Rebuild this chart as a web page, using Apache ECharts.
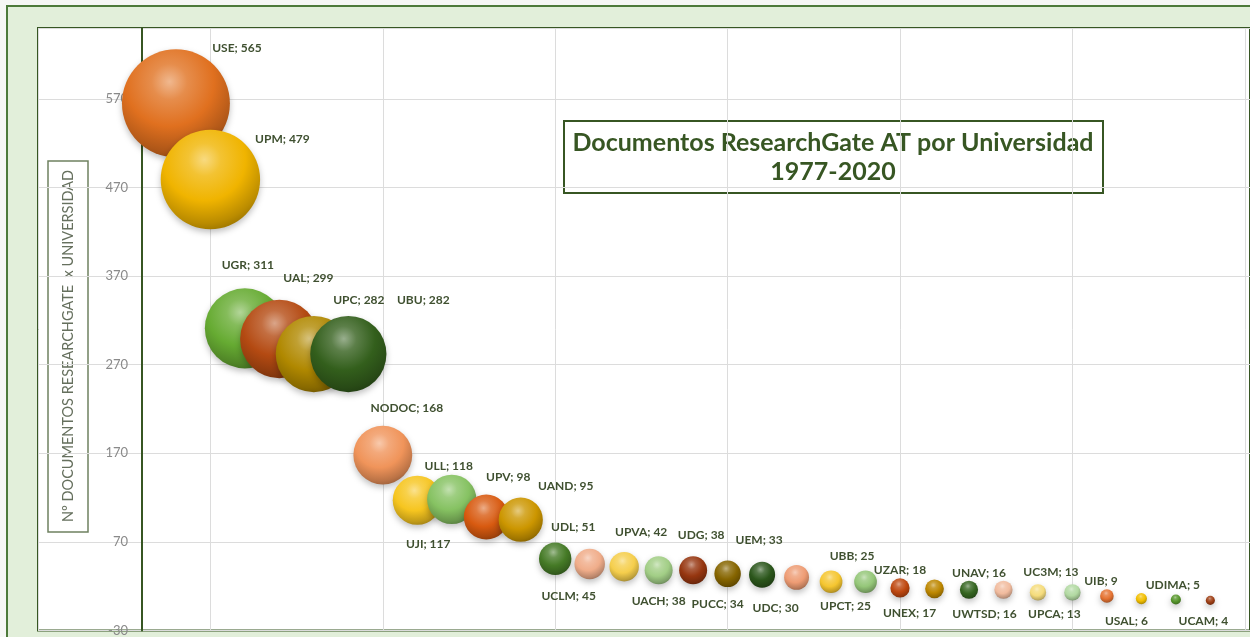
<!DOCTYPE html>
<html>
<head>
<meta charset="utf-8">
<title>Documentos ResearchGate AT por Universidad</title>
<script src="https://cdn.jsdelivr.net/npm/echarts@6/dist/echarts.min.js"></script>
<style>
  html, body { margin: 0; padding: 0; background: #f6f7f5; }
  #chart { width: 1250px; height: 637px; }
</style>
</head>
<body>
<div id="chart"></div>
<script>
// universities, sorted by number of documents
const universities = ['USE', 'UPM', 'UGR', 'UAL', 'UPC', 'UBU', 'NODOC', 'UJI', 'ULL', 'UPV', 'UAND',
  'UDL', 'UCLM', 'UPVA', 'UACH', 'UDG', 'PUCC', 'UEM', 'UDC', 'UBB', 'UPCT', 'UZAR', 'UNEX',
  'UNAV', 'UWTSD', 'UC3M', 'UPCA', 'UIB', 'USAL', 'UDIMA', 'UCAM'];
const documents = [565, 479, 311, 299, 282, 282, 168, 117, 118, 98, 95,
  51, 45, 42, 38, 38, 34, 33, 30, 25, 25, 18, 17,
  16, 16, 13, 13, 9, 6, 5, 4];

// bubble colours (excel palette, cycling)
const bubbleColors = ['#e0701f', '#f0b400', '#66ab32', '#b44a12', '#b08800', '#335f1c',
  '#f0945a', '#f6c51f', '#86c262', '#d85a10', '#cc9600', '#457a26', '#f0ad8a', '#f5ce4c',
  '#a2ce86', '#963610', '#866500', '#2b561b', '#ee9c74', '#f5c630', '#95c779', '#be470f',
  '#bd8700', '#356520', '#f1bb9e', '#f5dc7c', '#b2d9a2', '#e57332', '#f2bf00', '#56962b', '#9e3e14'];

// label placement: [side, dx, dy] (mimics hand placed excel labels)
const labelPlace = [
  ['top', 61, 10], ['top', 72, 20], ['top', 3, -12], ['top', 29, -11], ['top', 45, -5],
  ['top', 75, -5], ['top', 24, -7], ['bottom', 11, 8], ['top', -3, 2], ['top', 22, -6],
  ['top', 45, 0], ['top', 18, -4], ['bottom', -21, 6], ['top', 17, -9], ['bottom', 0, 6],
  ['top', 8, -10], ['bottom', -10, 6], ['top', -3, -11], ['bottom', -21, 7], ['top', 21, -3],
  ['bottom', -20, 2], ['top', 0, 3], ['bottom', -25, 4], ['top', 10, 3], ['bottom', -19, 4],
  ['top', 13, -1], ['bottom', -18, 3], ['top', -6, 3], ['bottom', -15, 6], ['top', -3, 2],
  ['bottom', -7, 5]
];

function mix(hex, target, amt) {
  const n = parseInt(hex.slice(1), 16);
  const r = (n >> 16) & 255, g = (n >> 8) & 255, b = n & 255;
  const m = c => Math.round(c + (target - c) * amt);
  return 'rgb(' + m(r) + ',' + m(g) + ',' + m(b) + ')';
}

// 3d sphere look
function sphere(hex) {
  return {
    type: 'radial', x: 0.44, y: 0.3, r: 0.75,
    colorStops: [
      { offset: 0, color: mix(hex, 255, 0.5) },
      { offset: 0.22, color: mix(hex, 255, 0.2) },
      { offset: 0.55, color: hex },
      { offset: 0.85, color: mix(hex, 0, 0.22) },
      { offset: 1, color: mix(hex, 0, 0.38) }
    ]
  };
}

const darkGreen = '#375623';
const chart = echarts.init(document.getElementById('chart'));

const seriesData = universities.map((name, i) => ({
  name: name,
  value: [i + 1, documents[i]],
  itemStyle: { color: sphere(bubbleColors[i]) },
  label: { position: labelPlace[i][0], offset: [labelPlace[i][1], labelPlace[i][2]] }
}));

chart.setOption({
  backgroundColor: 'transparent',
  animation: false,
  grid: {
    left: 38, top: 28, right: -6, bottom: 4,
    show: true,
    backgroundColor: '#ffffff',
    borderColor: darkGreen,
    borderWidth: 2
  },
  xAxis: {
    type: 'value',
    min: -3,
    max: 32.15,
    interval: 5,
    axisLine: { show: false },
    axisTick: { show: false },
    axisLabel: { show: false },
    splitLine: { show: true, lineStyle: { color: '#dcdcdc', width: 1 } }
  },
  yAxis: {
    type: 'value',
    min: -30,
    max: 650,
    interval: 100,
    offset: -104,
    axisLine: { show: true, onZero: false, lineStyle: { color: darkGreen, width: 2 } },
    axisTick: { show: false },
    axisLabel: {
      showMaxLabel: false,
      color: '#8a8a8a',
      fontSize: 13,
      fontFamily: 'Lato',
      margin: 14
    },
    splitLine: { show: true, lineStyle: { color: '#dcdcdc', width: 1 } }
  },
  graphic: [
    {
      type: 'rect', z: -10, silent: true,
      shape: { x: 7, y: 6, width: 1270, height: 650 },
      style: { fill: '#e2efda', stroke: '#4d7a3a', lineWidth: 2 }
    },
    {
      type: 'group', z: 10,
      children: [
        {
          type: 'rect',
          shape: { x: 48, y: 161, width: 40, height: 371 },
          style: { fill: '#ffffff', stroke: '#6f8160', lineWidth: 1.5 }
        },
        {
          type: 'text', x: 68, y: 346, rotation: Math.PI / 2,
          style: {
            text: 'Nº DOCUMENTOS RESEARCHGATE  x UNIVERSIDAD',
            fill: '#66705e', font: '14.5px Lato',
            align: 'center', verticalAlign: 'middle'
          }
        }
      ]
    },
    {
      type: 'group', z: 10,
      children: [
        {
          type: 'rect',
          shape: { x: 564, y: 121, width: 539, height: 72 },
          style: { fill: '#ffffff', stroke: darkGreen, lineWidth: 2 }
        },
        {
          type: 'text', x: 833, y: 143,
          style: {
            text: 'Documentos ResearchGate AT por Universidad',
            fill: darkGreen, font: 'bold 25px Lato',
            align: 'center', verticalAlign: 'middle'
          }
        },
        {
          type: 'text', x: 833, y: 172,
          style: {
            text: '1977-2020',
            fill: darkGreen, font: 'bold 25px Lato',
            align: 'center', verticalAlign: 'middle'
          }
        }
      ]
    }
  ],
  series: [
    {
      type: 'scatter',
      data: seriesData,
      symbolSize: function (val) {
        return 4.54 * Math.sqrt(val[1]);
      },
      itemStyle: {
        opacity: 1,
        shadowBlur: 6,
        shadowOffsetY: 3,
        shadowColor: 'rgba(0,0,0,0.25)'
      },
      label: {
        show: true,
        formatter: p => p.name + '; ' + p.value[1],
        color: '#3f5030',
        fontSize: 12,
        fontWeight: 'bold',
        fontFamily: 'Lato'
      },
      emphasis: { disabled: true }
    }
  ]
});
</script>
</body>
</html>
